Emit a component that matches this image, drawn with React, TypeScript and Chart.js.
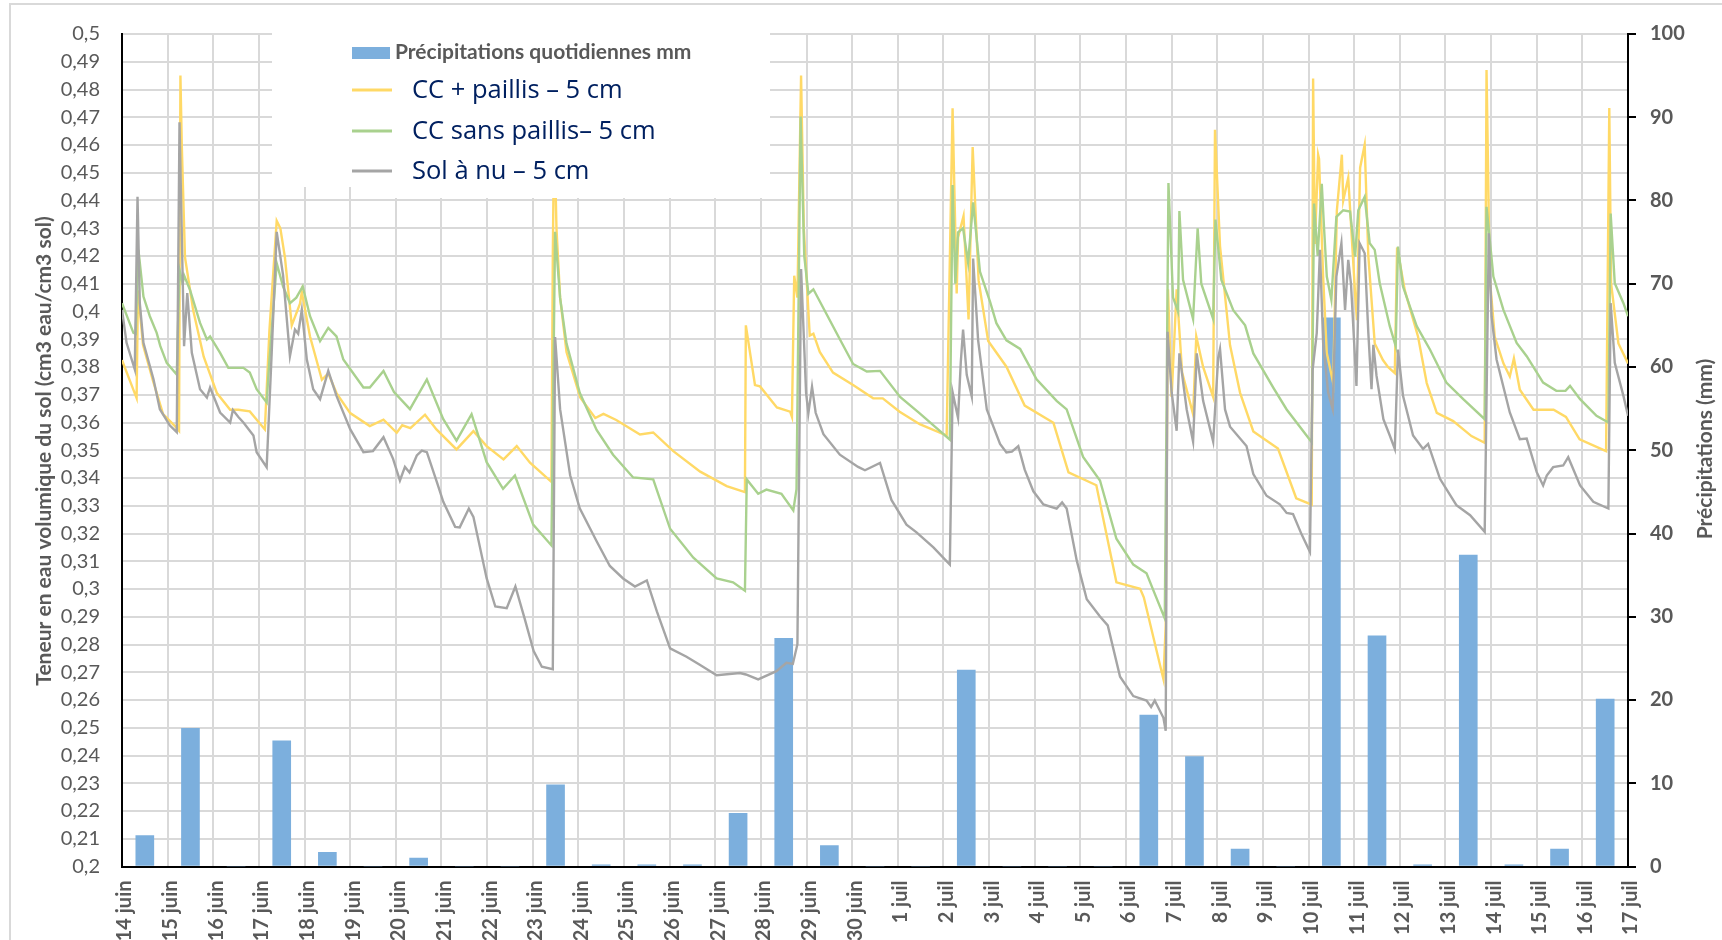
import React, { useEffect, useRef } from "react";
import { Chart, registerables } from "chart.js";

Chart.register(...registerables);

// ---- Data ----
const dayLabels: string[] = [
  "14 juin", "15 juin", "16 juin", "17 juin", "18 juin", "19 juin", "20 juin", "21 juin", "22 juin",
  "23 juin", "24 juin", "25 juin", "26 juin", "27 juin", "28 juin", "29 juin", "30 juin",
  "1 juil", "2 juil", "3 juil", "4 juil", "5 juil", "6 juil", "7 juil", "8 juil", "9 juil",
  "10 juil", "11 juil", "12 juil", "13 juil", "14 juil", "15 juil", "16 juil", "17 juil",
];

// daily precipitation (mm), one value per day starting 14 juin
const rainMm: number[] = [
  3.7, 16.6, 0, 15.1, 1.7, 0, 1.0, 0, 0, 9.8, 0.2, 0.2, 0.2, 6.4, 27.4, 2.5, 0,
  0, 23.6, 0, 0, 0, 18.2, 13.2, 2.1, 0, 65.9, 27.7, 0.2, 37.4, 0.2, 2.1, 20.1,
];

// [day offset since 14 juin, volumetric water content]
const paillis: [number, number][] = [
  [0, 0.3825], [0.32, 0.3688], [0.35, 0.4076], [0.46, 0.388], [0.68, 0.375], [0.9, 0.363], [1.16, 0.3587],
  [1.25, 0.357], [1.28, 0.485], [1.31, 0.46], [1.38, 0.4196], [1.56, 0.4004], [1.79, 0.3837], [2.08, 0.3706],
  [2.37, 0.3646], [2.55, 0.3646], [2.8, 0.364], [3.13, 0.3575], [3.23, 0.393], [3.39, 0.4327], [3.47, 0.43],
  [3.57, 0.4195], [3.72, 0.395], [3.9, 0.4028], [3.94, 0.407], [4.12, 0.391], [4.38, 0.3754], [4.52, 0.3777],
  [4.7, 0.3706], [5.0, 0.3634], [5.43, 0.3587], [5.73, 0.361], [6.02, 0.3563], [6.14, 0.359], [6.32, 0.358],
  [6.64, 0.3628], [6.89, 0.3575], [7.33, 0.3503], [7.7, 0.3569], [7.99, 0.3515], [8.36, 0.3467], [8.65, 0.3515],
  [8.94, 0.3455], [9.41, 0.3386], [9.44, 0.42], [9.47, 0.468], [9.52, 0.43], [9.6, 0.405], [9.74, 0.3854],
  [10.04, 0.369], [10.37, 0.3616], [10.55, 0.3631], [10.83, 0.3609], [11.35, 0.3557], [11.64, 0.3564],
  [12.08, 0.3497], [12.67, 0.3423], [13.25, 0.3371], [13.65, 0.3349], [13.67, 0.395], [13.87, 0.3735],
  [13.98, 0.373], [14.35, 0.3654], [14.64, 0.3639], [14.68, 0.362], [14.73, 0.4129], [14.8, 0.405],
  [14.88, 0.485], [14.94, 0.43], [15.07, 0.3913], [15.15, 0.392], [15.29, 0.3854], [15.58, 0.378],
  [16.02, 0.3735], [16.46, 0.3687], [16.67, 0.3687], [17.04, 0.3639], [17.48, 0.3594], [18.07, 0.3553],
  [18.2, 0.4732], [18.29, 0.4065], [18.32, 0.4267], [18.44, 0.4344], [18.55, 0.3971], [18.64, 0.4593],
  [18.77, 0.4112], [18.98, 0.3894], [19.38, 0.3801], [19.78, 0.3661], [20.41, 0.3599], [20.74, 0.342],
  [21.35, 0.3374], [21.79, 0.3024], [22.31, 0.3001], [22.39, 0.297], [22.82, 0.2675], [22.87, 0.2869],
  [22.92, 0.408], [23.0, 0.3692], [23.11, 0.408], [23.23, 0.378], [23.47, 0.363], [23.54, 0.391],
  [23.69, 0.38], [23.91, 0.3692], [23.95, 0.4655], [24.06, 0.4236], [24.28, 0.3878], [24.5, 0.3707],
  [24.79, 0.3568], [25.33, 0.3506], [25.73, 0.3327], [26.07, 0.3304], [26.1, 0.484], [26.14, 0.4243],
  [26.21, 0.4565], [26.23, 0.455], [26.32, 0.4124], [26.4, 0.385], [26.54, 0.3742], [26.62, 0.4363],
  [26.73, 0.4565], [26.76, 0.44], [26.87, 0.4482], [27.02, 0.4064], [27.06, 0.3969], [27.13, 0.4518],
  [27.23, 0.4601], [27.31, 0.42], [27.45, 0.3885], [27.63, 0.3825], [27.74, 0.38], [27.89, 0.3778],
  [27.94, 0.4231], [28.11, 0.4076], [28.4, 0.3909], [28.59, 0.3742], [28.81, 0.3635], [29.17, 0.3605],
  [29.57, 0.3551], [29.86, 0.3527], [29.9, 0.487], [29.97, 0.4124], [30.08, 0.3909], [30.27, 0.3813],
  [30.41, 0.3766], [30.5, 0.3831], [30.63, 0.3718], [30.93, 0.3646], [31.37, 0.3646], [31.64, 0.362],
  [31.94, 0.3539], [32.52, 0.3497], [32.59, 0.4733], [32.63, 0.41], [32.79, 0.3885], [33, 0.3813],
];

const sansPaillis: [number, number][] = [
  [0, 0.403], [0.25, 0.3923], [0.3, 0.392], [0.36, 0.4222], [0.47, 0.4054], [0.61, 0.3983], [0.76, 0.3923],
  [0.84, 0.3875], [0.98, 0.3815], [1.2, 0.3773], [1.26, 0.415], [1.33, 0.41], [1.36, 0.413], [1.49, 0.4078],
  [1.71, 0.3959], [1.86, 0.3899], [1.93, 0.391], [2.15, 0.3851], [2.33, 0.3797], [2.66, 0.3797], [2.8, 0.378],
  [2.95, 0.372], [3.17, 0.3672], [3.22, 0.38], [3.39, 0.4174], [3.53, 0.409], [3.68, 0.403], [3.82, 0.405],
  [3.96, 0.409], [4.12, 0.3983], [4.34, 0.3893], [4.52, 0.3941], [4.7, 0.391], [4.85, 0.3827], [5.29, 0.3726],
  [5.43, 0.3726], [5.73, 0.3786], [5.96, 0.371], [6.31, 0.3648], [6.68, 0.3755], [7.04, 0.3612], [7.33, 0.3535],
  [7.66, 0.363], [7.99, 0.3457], [8.35, 0.3361], [8.61, 0.3409], [9.01, 0.3232], [9.41, 0.3157], [9.49, 0.4287],
  [9.6, 0.4049], [9.74, 0.3885], [10.03, 0.3707], [10.4, 0.3573], [10.76, 0.3484], [11.2, 0.3402],
  [11.64, 0.3395], [12.01, 0.3217], [12.52, 0.3113], [13.03, 0.3038], [13.39, 0.3024], [13.65, 0.2994],
  [13.69, 0.3395], [13.94, 0.3343], [14.12, 0.3358], [14.45, 0.3343], [14.71, 0.3283], [14.78, 0.336],
  [14.87, 0.4703], [14.95, 0.42], [15.04, 0.4064], [15.15, 0.408], [15.44, 0.399], [15.73, 0.39],
  [16.02, 0.3811], [16.32, 0.3784], [16.61, 0.3786], [17.05, 0.3692], [17.48, 0.3633], [18.14, 0.3538],
  [18.2, 0.4456], [18.26, 0.41], [18.32, 0.4285], [18.43, 0.43], [18.54, 0.4176], [18.65, 0.4393],
  [18.8, 0.4144], [19.02, 0.4036], [19.16, 0.3958], [19.38, 0.3896], [19.68, 0.3865], [20.04, 0.3756],
  [20.48, 0.3678], [20.7, 0.3647], [21.06, 0.3476], [21.43, 0.3391], [21.79, 0.3181], [22.16, 0.3088],
  [22.45, 0.3057], [22.6, 0.2995], [22.85, 0.2894], [22.93, 0.4463], [23.03, 0.4051], [23.14, 0.4],
  [23.17, 0.4362], [23.25, 0.4114], [23.47, 0.3973], [23.57, 0.43], [23.65, 0.41], [23.91, 0.3973],
  [23.96, 0.4331], [24.09, 0.4114], [24.35, 0.4005], [24.61, 0.395], [24.79, 0.3849], [25.23, 0.3725],
  [25.52, 0.3647], [26.07, 0.3529], [26.12, 0.4389], [26.2, 0.42], [26.29, 0.446], [26.34, 0.43],
  [26.4, 0.4126], [26.5, 0.4042], [26.61, 0.4341], [26.76, 0.4365], [26.91, 0.436], [27.02, 0.4198],
  [27.09, 0.4365], [27.23, 0.4413], [27.34, 0.4246], [27.45, 0.4222], [27.56, 0.4102], [27.78, 0.3947],
  [27.91, 0.3875], [27.96, 0.4234], [28.07, 0.409], [28.37, 0.3947], [28.66, 0.3863], [29.02, 0.3744],
  [29.39, 0.3684], [29.86, 0.3612], [29.9, 0.4377], [30.05, 0.4126], [30.27, 0.4006], [30.56, 0.3887],
  [30.78, 0.3839], [31.14, 0.3744], [31.43, 0.3714], [31.63, 0.3714], [31.73, 0.3732], [31.95, 0.3684],
  [32.31, 0.3624], [32.57, 0.36], [32.62, 0.4353], [32.71, 0.4102], [32.9, 0.403], [33, 0.3983],
];

const solNu: [number, number][] = [
  [0, 0.4006], [0.1, 0.3887], [0.28, 0.3791], [0.34, 0.4413], [0.39, 0.403], [0.47, 0.3887], [0.69, 0.3756],
  [0.83, 0.3648], [1.05, 0.3589], [1.2, 0.3565], [1.26, 0.4682], [1.36, 0.3875], [1.43, 0.4066], [1.53, 0.3851],
  [1.71, 0.372], [1.86, 0.369], [1.93, 0.3726], [2.15, 0.3636], [2.37, 0.36], [2.43, 0.3645], [2.55, 0.362],
  [2.66, 0.36], [2.88, 0.3553], [2.95, 0.3493], [3.17, 0.3439], [3.28, 0.3851], [3.39, 0.4287], [3.53, 0.413],
  [3.68, 0.3839], [3.79, 0.3935], [3.86, 0.392], [3.94, 0.4006], [4.05, 0.3827], [4.19, 0.372], [4.34, 0.3684],
  [4.52, 0.3786], [4.7, 0.3696], [5.0, 0.3576], [5.29, 0.3493], [5.5, 0.3497], [5.73, 0.3547], [5.94, 0.3469],
  [6.09, 0.3391], [6.2, 0.344], [6.3, 0.342], [6.46, 0.3481], [6.57, 0.3499], [6.68, 0.3493], [6.9, 0.3385],
  [7.04, 0.3314], [7.3, 0.3224], [7.4, 0.3222], [7.6, 0.329], [7.7, 0.326], [7.99, 0.3039], [8.18, 0.2937],
  [8.43, 0.2931], [8.62, 0.3009], [8.82, 0.2895], [9.02, 0.2776], [9.2, 0.272], [9.44, 0.2711], [9.49, 0.3908],
  [9.6, 0.3648], [9.82, 0.341], [10.03, 0.3291], [10.4, 0.3172], [10.69, 0.3083], [10.98, 0.3038],
  [11.24, 0.3009], [11.5, 0.3031], [11.72, 0.2919], [12.01, 0.2786], [12.37, 0.2756], [12.66, 0.2727],
  [13.03, 0.2689], [13.54, 0.2697], [13.67, 0.2692], [13.94, 0.2674], [14.34, 0.2704], [14.56, 0.2734],
  [14.7, 0.273], [14.8, 0.2801], [14.88, 0.4153], [14.99, 0.3707], [15.04, 0.3633], [15.12, 0.3729],
  [15.2, 0.3635], [15.37, 0.3558], [15.73, 0.3484], [16.13, 0.344], [16.28, 0.3428], [16.61, 0.3454],
  [16.86, 0.3321], [17.19, 0.3232], [17.41, 0.3204], [17.78, 0.315], [18.14, 0.3088], [18.2, 0.3709],
  [18.32, 0.3616], [18.38, 0.3818], [18.43, 0.3935], [18.51, 0.3772], [18.62, 0.3694], [18.65, 0.4191],
  [18.76, 0.3896], [18.95, 0.3647], [19.24, 0.3523], [19.38, 0.3492], [19.5, 0.3495], [19.64, 0.3515],
  [19.78, 0.343], [19.97, 0.3352], [20.19, 0.3305], [20.48, 0.329], [20.6, 0.3312], [20.7, 0.329],
  [20.92, 0.3103], [21.14, 0.2963], [21.43, 0.2901], [21.6, 0.2869], [21.87, 0.2684], [22.16, 0.2614],
  [22.45, 0.2598], [22.55, 0.2575], [22.63, 0.2598], [22.82, 0.2536], [22.87, 0.2489], [22.91, 0.3927],
  [23.0, 0.3709], [23.11, 0.357], [23.17, 0.3849], [23.33, 0.3647], [23.47, 0.3531], [23.55, 0.3849],
  [23.69, 0.3678], [23.91, 0.3531], [24.02, 0.3834], [24.06, 0.3865], [24.17, 0.3647], [24.28, 0.3585],
  [24.64, 0.3515], [24.79, 0.3414], [25.08, 0.3336], [25.37, 0.3305], [25.52, 0.3274], [25.66, 0.327],
  [25.85, 0.3196], [26.03, 0.3134], [26.09, 0.3791], [26.18, 0.3923], [26.25, 0.4222], [26.32, 0.3887],
  [26.43, 0.3708], [26.53, 0.3648], [26.61, 0.4126], [26.72, 0.4246], [26.8, 0.4006], [26.87, 0.4186],
  [26.93, 0.41], [27.05, 0.3732], [27.12, 0.4246], [27.23, 0.421], [27.31, 0.3923], [27.38, 0.372],
  [27.42, 0.388], [27.49, 0.3768], [27.64, 0.3612], [27.78, 0.3553], [27.89, 0.3505], [27.96, 0.3863],
  [28.07, 0.3696], [28.29, 0.3553], [28.51, 0.3505], [28.62, 0.3523], [28.88, 0.3397], [29.24, 0.3302],
  [29.54, 0.3266], [29.86, 0.3206], [29.95, 0.4282], [30.01, 0.3983], [30.12, 0.3827], [30.41, 0.3636],
  [30.63, 0.354], [30.78, 0.3542], [31.0, 0.3421], [31.14, 0.3373], [31.22, 0.3409], [31.36, 0.3439],
  [31.58, 0.3445], [31.69, 0.3475], [31.95, 0.3373], [32.24, 0.3314], [32.57, 0.329], [32.62, 0.403],
  [32.71, 0.3815], [32.9, 0.3696], [33, 0.3624],
];

const seriesLabels = [
  "Précipitations quotidiennes mm",
  "CC + paillis – 5 cm",
  "CC sans paillis– 5 cm",
  "Sol à nu – 5 cm",
];
const leftTitle = "Teneur en eau volumique du sol (cm3 eau/cm3 sol)";
const rightTitle = "Précipitations (mm)";

const W = 1722;
const H = 940;
const AREA_LEFT = 122;
const AREA_RIGHT = 1628;
const AREA_TOP = 29.5;
const AREA_BOTTOM = 866.5;

const GRID = "#d9d9d9";
const TEXT = "#595959";

const decorPlugin = {
  id: "decor",
  beforeDraw(chart: any) {
    const ctx = chart.ctx;
    ctx.save();
    ctx.fillStyle = "#ffffff";
    ctx.fillRect(0, 0, chart.width, chart.height);
    ctx.strokeStyle = GRID;
    ctx.lineWidth = 2;
    ctx.beginPath();
    ctx.moveTo(10, chart.height + 5);
    ctx.lineTo(10, 4);
    ctx.lineTo(chart.width + 5, 4);
    ctx.stroke();
    ctx.restore();
  },
  afterDraw(chart: any) {
    const ctx = chart.ctx;
    const ds = chart.data.datasets;
    ctx.save();
    // axis titles
    ctx.fillStyle = TEXT;
    ctx.font = "bold 21px Lato";
    ctx.textAlign = "center";
    ctx.textBaseline = "middle";
    ctx.translate(44, 451);
    ctx.rotate(-Math.PI / 2);
    ctx.fillText(leftTitle, 0, 0);
    ctx.setTransform(1, 0, 0, 1, 0, 0);
    ctx.translate(1705, 449);
    ctx.rotate(-Math.PI / 2);
    ctx.fillText(rightTitle, 0, 0);
    ctx.setTransform(1, 0, 0, 1, 0, 0);

    // legend box
    ctx.fillStyle = "#ffffff";
    ctx.fillRect(272, 32, 498, 155);
    ctx.fillRect(393, 32, 377, 166);

    ctx.fillStyle = ds[0].backgroundColor;
    ctx.fillRect(352, 47, 38, 12);
    ctx.fillStyle = TEXT;
    ctx.font = "bold 21px Lato";
    ctx.textAlign = "left";
    ctx.textBaseline = "middle";
    ctx.fillText(ds[0].label, 395, 52);

    const ys = [90, 131, 171];
    for (let i = 1; i <= 3; i++) {
      const y = ys[i - 1];
      ctx.strokeStyle = ds[i].borderColor;
      ctx.lineWidth = 3;
      ctx.beginPath();
      ctx.moveTo(352, y);
      ctx.lineTo(392, y);
      ctx.stroke();
      ctx.fillStyle = "#002060";
      ctx.font = "25.5px 'Open Sans'";
      ctx.fillText(ds[i].label, 412, y + 1);
    }
    ctx.restore();
  },
};

export default function App() {
  const ref = useRef<HTMLCanvasElement | null>(null);

  useEffect(() => {
    if (!ref.current) return;
    const toPts = (arr: [number, number][]) => arr.map(([x, y]) => ({ x, y }));
    const chart = new Chart(ref.current, {
      type: "line",
      data: {
        datasets: [
          {
            type: "bar",
            label: seriesLabels[0],
            data: rainMm.map((v, i) => ({ x: i + 0.5, y: v })),
            yAxisID: "y1",
            xAxisID: "x",
            backgroundColor: "#7cafdd",
            barThickness: 18,
            order: 10,
          } as any,
          {
            type: "line",
            label: seriesLabels[1],
            data: toPts(paillis),
            yAxisID: "y",
            borderColor: "#ffd966",
            borderWidth: 2.4,
            pointRadius: 0,
            tension: 0,
            order: 3,
          },
          {
            type: "line",
            label: seriesLabels[2],
            data: toPts(sansPaillis),
            yAxisID: "y",
            borderColor: "#a9d18e",
            borderWidth: 2.4,
            pointRadius: 0,
            tension: 0,
            order: 2,
          },
          {
            type: "line",
            label: seriesLabels[3],
            data: toPts(solNu),
            yAxisID: "y",
            borderColor: "#a5a5a5",
            borderWidth: 2.4,
            pointRadius: 0,
            tension: 0,
            order: 1,
          },
        ],
      },
      options: {
        animation: false,
        responsive: false,
        maintainAspectRatio: false,
        layout: { padding: { top: AREA_TOP, left: 0, right: 0, bottom: 0 } },
        plugins: { legend: { display: false }, tooltip: { enabled: false } },
        scales: {
          x: {
            type: "linear",
            min: 0,
            max: 33,
            offset: false,
            ticks: {
              stepSize: 1,
              autoSkip: false,
              maxRotation: 90,
              minRotation: 90,
              padding: 14,
              labelOffset: 3,
              color: TEXT,
              font: { family: "Lato", size: 20, weight: "bold" },
              callback: (v: any) => dayLabels[Math.round(Number(v))] ?? "",
            },
            grid: { color: GRID, lineWidth: 2, drawTicks: false, offset: false },
            border: { color: "#000", width: 2 },
            afterFit: (s: any) => {
              s.height = H - AREA_BOTTOM;
            },
          },
          y: {
            position: "left",
            min: 0.2,
            max: 0.5,
            ticks: {
              stepSize: 0.01,
              padding: 22,
              color: TEXT,
              font: { family: "Lato", size: 20 },
              callback: (v: any) => String(Math.round(Number(v) * 100) / 100).replace(".", ","),
            },
            grid: { color: GRID, lineWidth: 2, drawTicks: false },
            border: { color: "#000", width: 2 },
            afterFit: (s: any) => {
              s.width = AREA_LEFT;
            },
          },
          y1: {
            position: "right",
            min: 0,
            max: 100,
            ticks: {
              stepSize: 10,
              padding: 14,
              color: TEXT,
              font: { family: "Lato", size: 20, weight: "bold" },
            },
            grid: { drawOnChartArea: false, drawTicks: true, tickLength: 8, color: "#000", lineWidth: 2 },
            border: { color: "#000", width: 2 },
            afterFit: (s: any) => {
              s.width = W - AREA_RIGHT;
            },
          },
        },
      } as any,
      plugins: [decorPlugin],
    });
    return () => chart.destroy();
  }, []);

  return (
    <>
      <style>{"body{margin:0;overflow:hidden;background:#fff}"}</style>
      <canvas ref={ref} width={W} height={H} style={{ display: "block", width: W, height: H }} />
    </>
  );
}
